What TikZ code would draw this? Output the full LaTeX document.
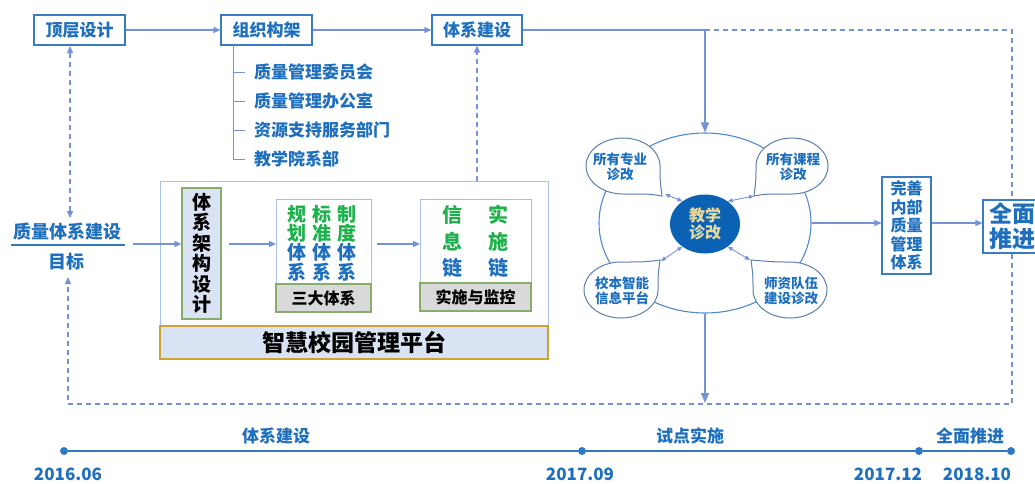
\documentclass[tikz,border=0pt]{standalone}
\usepackage{fontspec}
\setmainfont{Noto Sans CJK SC}
\usetikzlibrary{arrows.meta,calc,shapes.geometric}
\definecolor{txtblue}{HTML}{1F6FBF}
\definecolor{boxblue}{HTML}{3A7CC4}
\definecolor{linecol}{HTML}{7393D9}
\definecolor{grn}{HTML}{1DB04B}
\definecolor{lblue}{HTML}{A9C0E6}
\definecolor{gframe}{HTML}{86AD6A}
\definecolor{gfill}{HTML}{D9D9D9}
\definecolor{bandfill}{HTML}{DAE3F3}
\definecolor{gold}{HTML}{CDA434}
\definecolor{ringcol}{HTML}{4F8AD0}
\definecolor{bubcol}{HTML}{5B7FB0}
\definecolor{coreblue}{HTML}{0B62B4}
\definecolor{coretxt}{HTML}{E8D99A}
\definecolor{tline}{HTML}{2F78C4}
\newcommand\myfs[2]{\fontsize{#1}{#2}\selectfont\bfseries}
\tikzset{
  topbox/.style={draw=boxblue, line width=1.1pt, fill=white, minimum height=30pt, inner sep=0pt, text=txtblue, font=\myfs{17}{19}},
  conn/.style={draw=linecol, line width=1.3pt, -{Triangle[length=7pt,width=6pt]}},
  bigconn/.style={draw=linecol, line width=1.6pt, -{Triangle[length=10pt,width=8pt]}},
  dconn/.style={draw=linecol, line width=1.3pt, dash pattern=on 5pt off 4pt},
  bluetxt/.style={text=txtblue, font=\myfs{17}{19}, inner sep=0pt},
  bubble/.style={draw=bubcol, line width=1pt, fill=white},
  bubtxt/.style={text=txtblue, font=\myfs{13.5}{15}, align=center, inner sep=0pt},
  smallarr/.style={draw=linecol, line width=0.9pt, {Triangle[length=5pt,width=4pt]}-{Triangle[length=5pt,width=4pt]}},
  dot/.style={circle, fill=tline, inner sep=0pt, minimum size=8pt},
}
\begin{document}
\begin{tikzpicture}[x=1pt,y=-1pt]
\useasboundingbox (0,0) rectangle (1035,483);
% top row
\node[topbox, minimum width=91pt] (top) at (79.5,30) {顶层设计};
\node[topbox, minimum width=91pt] (org) at (266.5,30) {组织构架};
\node[topbox, minimum width=90pt] (sys) at (477,30) {体系建设};
\draw[conn] (top) -- (org);
\draw[conn] (org) -- (sys);
% org items
\coordinate (ov0) at (233,45);
\coordinate (ov1) at (233,72);
\coordinate (ov2) at (233,101);
\coordinate (ov3) at (233,130);
\coordinate (ov4) at (233,159);
\draw[linecol, line width=1pt] (ov0) -- (ov4);
\foreach \i in {1,2,3,4} \draw[linecol, line width=1pt] (ov\i) -- ++(12,0);
\node[bluetxt, anchor=west] (o1) at (254,72) {质量管理委员会};
\node[bluetxt, anchor=west] (o2) at (254,101) {质量管理办公室};
\node[bluetxt, anchor=west] (o3) at (254,130) {资源支持服务部门};
\node[bluetxt, anchor=west] (o4) at (254,159) {教学院系部};
% goal
\node[text=txtblue, font=\myfs{18}{20}, inner sep=0pt] (goal) at (67,232) {质量体系建设};
\draw[tline, line width=2.6pt] (11,245) -- (125,245);
\node[text=txtblue, font=\myfs{18}{20}, inner sep=0pt] (goal2) at (66,262) {目标};
\draw[dconn, {Triangle[length=7pt,width=6pt]}-{Triangle[length=7pt,width=6pt]}] (70,46) -- (70,218);
% big box
\node[draw=lblue, line width=1pt, fill=white, minimum width=388pt, minimum height=178pt, inner sep=0pt] (plat) at (354,270) {};
\node[draw=gold, line width=1.1pt, fill=bandfill, minimum width=388pt, minimum height=33pt, inner sep=0pt, font=\myfs{23}{25}] (band) at (354,342.5) {智慧校园管理平台};
\node[draw=gframe, line width=1.1pt, fill=bandfill, minimum width=39pt, minimum height=131pt, inner sep=0pt, align=center, font=\myfs{19}{20.5}] (arch) at (201.5,253.5) {体\\系\\架\\构\\设\\计};
% three systems
\node[draw=lblue, line width=1pt, fill=white, minimum width=95pt, minimum height=85pt, inner sep=0pt] (three) at (323.5,241.5) {};
\node[draw=gframe, line width=1.1pt, fill=gfill, minimum width=95pt, minimum height=28pt, inner sep=0pt, font=\myfs{16}{18}] (threel) at (323.5,298) {三大体系};
\node[align=center, inner sep=0pt, font=\myfs{19}{19.3}] (c1) at (297,243) {\textcolor{grn}{规}\\\textcolor{grn}{划}\\\textcolor{txtblue}{体}\\\textcolor{txtblue}{系}};
\node[align=center, inner sep=0pt, font=\myfs{19}{19.3}] (c2) at (322,243) {\textcolor{grn}{标}\\\textcolor{grn}{准}\\\textcolor{txtblue}{体}\\\textcolor{txtblue}{系}};
\node[align=center, inner sep=0pt, font=\myfs{19}{19.3}] (c3) at (347,243) {\textcolor{grn}{制}\\\textcolor{grn}{度}\\\textcolor{txtblue}{体}\\\textcolor{txtblue}{系}};
% implementation
\node[draw=lblue, line width=1pt, fill=white, minimum width=111pt, minimum height=84pt, inner sep=0pt] (impl) at (475.5,241) {};
\node[draw=gframe, line width=1.1pt, fill=gfill, minimum width=111pt, minimum height=28pt, inner sep=0pt, font=\myfs{16}{18}] (impll) at (475.5,297) {实施与监控};
\node[align=center, inner sep=0pt, font=\myfs{20}{26.5}] (d1) at (452,241.5) {\textcolor{grn}{信}\\\textcolor{grn}{息}\\\textcolor{txtblue}{链}};
\node[align=center, inner sep=0pt, font=\myfs{20}{26.5}] (d2) at (498,241.5) {\textcolor{grn}{实}\\\textcolor{grn}{施}\\\textcolor{txtblue}{链}};
% arrows in the box
\coordinate (gl) at (133,244);
\draw[conn] (gl) -- (arch.west |- gl);
\draw[conn] (arch.east |- gl) ++(7,0) -- (276,244);
\draw[conn] (372,244) ++(5,0) -- (420,244);
\draw[dconn, -{Triangle[length=7pt,width=6pt]}] (plat.north -| sys) -- (sys.south);
% diagnosis ring
\node[draw=ringcol, line width=1.1pt, ellipse, minimum width=212pt, minimum height=180pt, inner sep=0pt] (ring) at (705,223) {};
\coordinate (ct) at (705,30);
\draw[draw=linecol, line width=1.6pt] (sys.east) -- (ct);
\draw[bigconn] (ct) -- (ring.north);
\draw[bubble] (662,196) .. controls (650,194) .. (623,194) arc[start angle=90, end angle=360, x radius=37, y radius=28] .. controls (660,180) .. cycle;
\draw[bubble] (754,196) .. controls (756,180) .. (756,166) arc[start angle=180, end angle=450, x radius=36, y radius=28] .. controls (765,194) .. cycle;
\draw[bubble] (660,260) .. controls (658,275) .. (658,290) arc[start angle=0, end angle=270, x radius=37, y radius=28] .. controls (645,262) .. cycle;
\draw[bubble] (751,260) .. controls (775,262) .. (790,262) arc[start angle=270, end angle=540, x radius=37, y radius=28] .. controls (753,275) .. cycle;
\node[bubtxt] (b1) at (620,167) {所有专业\\诊改};
\node[bubtxt] (b2) at (793,167) {所有课程\\诊改};
\node[bubtxt] (b3) at (622,291) {校本智能\\信息平台};
\node[bubtxt] (b4) at (791,291) {师资队伍\\建设诊改};
\node[ellipse, fill=coreblue, minimum width=70pt, minimum height=59pt, inner sep=0pt, text=coretxt, align=center, font=\myfs{16}{17.5}] (core) at (705,224) {教学\\诊改};
\coordinate (t1) at (665,194);
\coordinate (t2) at (754,196);
\coordinate (t3) at (661,261);
\coordinate (t4) at (750,260);
\draw[smallarr] (t1) -- (core.135);
\draw[smallarr] (t2) -- (core.45);
\draw[smallarr] (t3) -- (core.225);
\draw[smallarr] (t4) -- (core.315);
% right side
\node[draw=boxblue, line width=1.1pt, fill=white, minimum width=49pt, minimum height=97pt, inner sep=0pt, text=txtblue, align=center, font=\myfs{16}{18.5}] (perf) at (906.5,225.5) {完善\\内部\\质量\\管理\\体系};
\node[draw=boxblue, line width=1.1pt, fill=white, minimum width=58pt, minimum height=53pt, inner sep=0pt, text=txtblue, align=center, font=\myfs{23}{25}] (full) at (1012,226.5) {全面\\推进};
\draw[conn] (ring.east) -- (perf.west |- ring.east);
\draw[conn] (perf.east |- ring.east) -- (full.west |- ring.east);
% dashed loop
\coordinate (dtop) at (1012,30);
\coordinate (dbr) at (1012,404);
\coordinate (dbl) at (68,404);
\coordinate (dup) at (68,277);
\draw[dconn] (ct) -- (dtop) -- (full.north);
\draw[dconn, -{Triangle[length=7pt,width=6pt]}] (full.south) -- (dbr) -- (dbl) -- (dup);
\draw[bigconn] (ring.south) -- (705,403);
% timeline
\node[dot] (p1) at (64,451) {};
\node[dot] (p2) at (582,451) {};
\node[dot] (p3) at (919,451) {};
\node[dot] (p4) at (1011,451) {};
\draw[tline, line width=2.8pt] (p1) -- (p2) -- (p3) -- (p4);
\node[bluetxt] (l1) at (276,436) {体系建设};
\node[bluetxt] (l2) at (690,436) {试点实施};
\node[bluetxt] (l3) at (970,436) {全面推进};
\node[bluetxt] (y1) at (68,474) {2016.06};
\node[bluetxt] (y2) at (580,474) {2017.09};
\node[bluetxt] (y3) at (888,474) {2017.12};
\node[bluetxt] (y4) at (977,474) {2018.10};
\end{tikzpicture}
\end{document}
